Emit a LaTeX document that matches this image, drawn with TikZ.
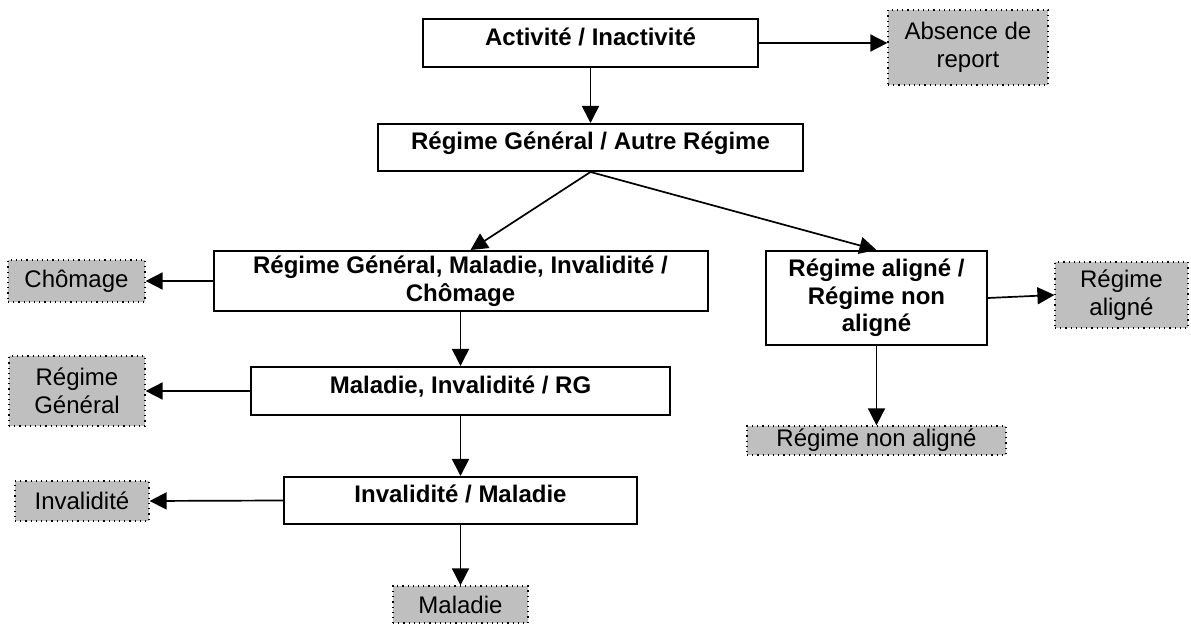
\documentclass[tikz,border=0pt]{standalone}
\usepackage{fontspec}
\setmainfont{Liberation Sans}
\usetikzlibrary{arrows.meta}

\begin{document}
\begin{tikzpicture}[x=0.5pt,y=-0.5pt,
    choix/.style={draw=black,line width=1pt,fill=white,align=center,
      inner sep=1pt,font=\fontsize{12}{13.8}\selectfont\bfseries},
    haut/.style={text depth=6.5pt},
    issue/.style={draw=black,dotted,line width=0.6pt,fill=black!25,align=center,
      inner sep=1pt,font=\fontsize{12}{13.8}\selectfont},
    fleche/.style={line width=0.85pt,-{Triangle[length=8.5pt,width=8.5pt]}}]
      % Frame
      \useasboundingbox (0,0) rectangle (1191,624);

      % ---------- Decision boxes ----------
      \node[choix,haut,minimum width=167.5pt,minimum height=24pt] (act) at (590.5,43)
        {Activité / Inactivité};
      \node[choix,haut,minimum width=212.5pt,minimum height=23.5pt] (rgar) at (590.5,147.5)
        {Régime Général / Autre Régime};
      \node[choix,minimum width=247pt,minimum height=30pt] (rgmic) at (460.5,281)
        {Régime Général, Maladie, Invalidité /\\Chômage};
      \node[choix,minimum width=110.5pt,minimum height=47pt] (align) at (876.5,298)
        {Régime aligné /\\Régime non\\aligné};
      \node[choix,haut,minimum width=209.5pt,minimum height=24pt] (mir) at (460.5,391)
        {Maladie, Invalidité / RG};
      \node[choix,haut,minimum width=176.5pt,minimum height=23.5pt] (im) at (460.5,500.5)
        {Invalidité / Maladie};

      % ---------- Outcomes (grey) ----------
      \node[issue,minimum width=80pt,minimum height=37.5pt] (absence) at (968,47.5)
        {Absence de\\report};
      \node[issue,minimum width=68.5pt,minimum height=21pt] (chomage) at (76.5,281)
        {Chômage};
      \node[issue,minimum width=66.5pt,minimum height=33pt] (ralign) at (1121.5,295)
        {Régime\\aligné};
      \node[issue,minimum width=129.5pt,minimum height=14.5pt] (nonalign) at (876.5,440.5)
        {Régime non aligné};
      \node[issue,minimum width=68pt,minimum height=35pt] (rgen) at (77,391)
        {Régime\\Général};
      \node[issue,minimum width=67pt,minimum height=20pt] (inval) at (82,501)
        {Invalidité};
      \node[issue,minimum width=67.5pt,minimum height=18.5pt] (maladie) at (460.5,604.5)
        {Maladie};

      % ---------- Arrows ----------
      \draw[fleche] (act.east) -- (act.east -| absence.west);
      \draw[fleche] (act.south) -- (rgar.north);
      \draw[fleche] (rgar.south) -- ([xshift=5pt]rgmic.north);
      \draw[fleche] (rgar.south) -- (align.north);
      \draw[fleche] (rgmic.west) -- (chomage.east);
      \draw[fleche] (rgmic.south) -- (mir.north);
      \draw[fleche] (align.east) -- (ralign.west);
      \draw[fleche] (align.south) -- (nonalign.north);
      \draw[fleche] (mir.west) -- (rgen.east);
      \draw[fleche] (mir.south) -- (im.north);
      \draw[fleche] (im.west) -- (inval.east);
      \draw[fleche] (im.south) -- (maladie.north);
\end{tikzpicture}
\end{document}
